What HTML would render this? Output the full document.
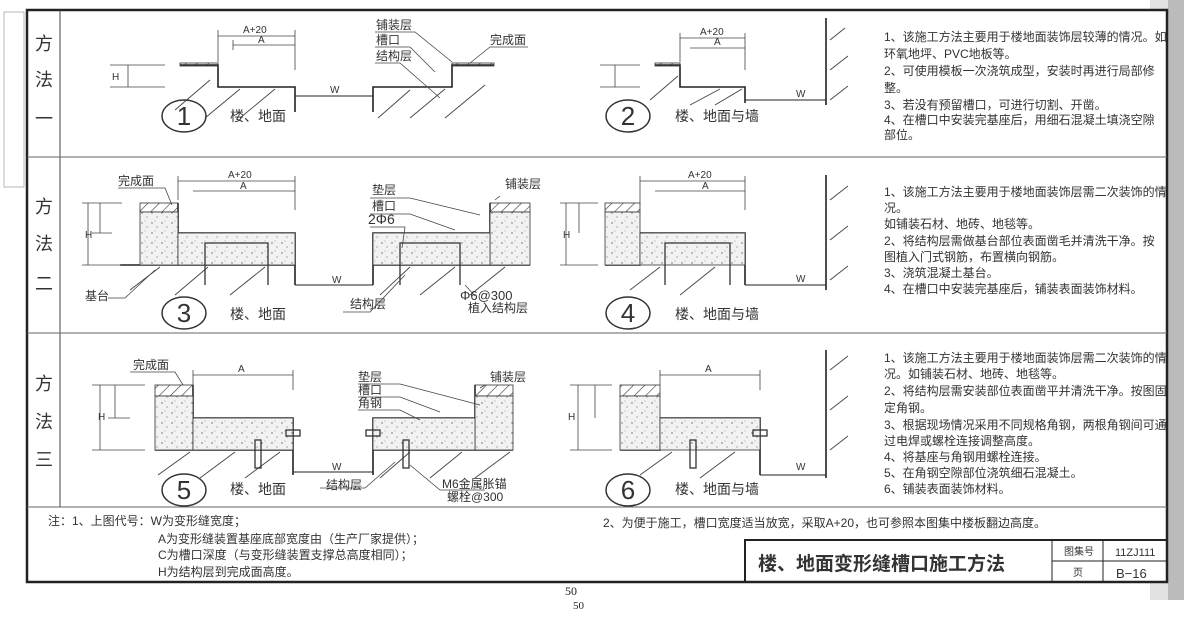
<!DOCTYPE html>
<html><head><meta charset="utf-8"><style>
body{margin:0;background:#fff;}
svg{display:block;font-family:"Liberation Sans","Noto Sans CJK SC",sans-serif;}
.t{font-size:12px;fill:#333;}
.s{font-size:10px;fill:#333;}
</style></head><body>
<svg width="1184" height="619" viewBox="0 0 1184 619">
<defs>
<pattern id="h" width="8" height="8" patternUnits="userSpaceOnUse" patternTransform="rotate(45)"><line x1="0" y1="0" x2="0" y2="8" stroke="#333" stroke-width="1.2"/></pattern>
<pattern id="c" width="10" height="10" patternUnits="userSpaceOnUse"><rect width="10" height="10" fill="#f2f2f2"/><circle cx="2" cy="3" r=".7" fill="#666"/><circle cx="7" cy="7" r=".6" fill="#777"/><circle cx="5" cy="1" r=".5" fill="#888"/></pattern>
</defs>
<rect x="1150" y="0" width="34" height="600" fill="#e2e2e2"/>
<rect x="1168" y="0" width="16" height="600" fill="#bbb"/>
<rect x="27" y="10" width="1140" height="572" fill="#fff" stroke="#222" stroke-width="2.5"/>
<line x1="60" y1="10" x2="60" y2="507" stroke="#444"/>
<line x1="27" y1="157" x2="1167" y2="157" stroke="#666"/>
<line x1="27" y1="333" x2="1167" y2="333" stroke="#666"/>
<line x1="27" y1="507" x2="1167" y2="507" stroke="#666"/>
<rect x="4" y="12" width="20" height="175" fill="none" stroke="#999" stroke-width=".7"/>
<g font-size="18" fill="#333" text-anchor="middle">
<text x="44" y="50">方</text><text x="44" y="86">法</text><text x="44" y="125">一</text>
<text x="44" y="213">方</text><text x="44" y="250">法</text><text x="44" y="290">二</text>
<text x="44" y="390">方</text><text x="44" y="428">法</text><text x="44" y="466">三</text>
</g>
<g stroke="#222" fill="none" stroke-width="1.6">
<polyline points="180,65 218,65 218,87 295,87 295,112"/>
<polyline points="373,112 373,87 452,87 452,65 494,65"/>
<line x1="295" y1="96" x2="373" y2="96" stroke-width="1"/>
<polyline points="655,65 680,65 680,87 745,87 745,103"/>
<line x1="745" y1="100" x2="826" y2="100" stroke-width="1"/>
<line x1="826" y1="18" x2="826" y2="105"/>
<line x1="120" y1="265" x2="295" y2="265"/><polyline points="178,203 178,233 295,233 295,285"/>
<polyline points="373,285 373,233 490,233 490,203"/><line x1="373" y1="265" x2="530" y2="265"/>
<line x1="295" y1="285" x2="373" y2="285" stroke-width="1"/>
<polyline points="605,265 640,265 640,233 745,233 745,285"/><line x1="745" y1="285" x2="826" y2="285" stroke-width="1"/>
<line x1="826" y1="175" x2="826" y2="290"/>
<line x1="155" y1="450" x2="293" y2="450"/><polyline points="193,385 193,418 293,418 293,475"/>
<polyline points="373,475 373,418 475,418 475,385"/><line x1="373" y1="450" x2="513" y2="450"/>
<line x1="293" y1="472" x2="373" y2="472" stroke-width="1"/>
<polyline points="620,450 660,450 660,418 760,418 760,475"/><line x1="760" y1="475" x2="826" y2="475" stroke-width="1"/>
<line x1="826" y1="350" x2="826" y2="478"/>
</g>
<g stroke="#333" stroke-width=".8">
<rect x="140" y="203" width="38" height="9" fill="url(#h)"/><rect x="140" y="212" width="38" height="53" fill="url(#c)"/><rect x="178" y="233" width="117" height="32" fill="url(#c)"/>
<rect x="490" y="203" width="40" height="9" fill="url(#h)"/><rect x="490" y="212" width="40" height="53" fill="url(#c)"/><rect x="373" y="233" width="117" height="32" fill="url(#c)"/>
<rect x="605" y="203" width="35" height="9" fill="url(#h)"/><rect x="605" y="212" width="35" height="53" fill="url(#c)"/><rect x="640" y="233" width="105" height="32" fill="url(#c)"/>
<rect x="155" y="385" width="38" height="11" fill="url(#h)"/><rect x="155" y="396" width="38" height="54" fill="url(#c)"/><rect x="193" y="418" width="100" height="32" fill="url(#c)"/>
<rect x="475" y="385" width="38" height="11" fill="url(#h)"/><rect x="475" y="396" width="38" height="54" fill="url(#c)"/><rect x="373" y="418" width="102" height="32" fill="url(#c)"/>
<rect x="620" y="385" width="40" height="11" fill="url(#h)"/><rect x="620" y="396" width="40" height="54" fill="url(#c)"/><rect x="660" y="418" width="100" height="32" fill="url(#c)"/>
<rect x="180" y="63" width="38" height="3" fill="url(#h)"/><rect x="452" y="63" width="42" height="3" fill="url(#h)"/><rect x="655" y="63" width="25" height="3" fill="url(#h)"/>
</g>
<g stroke="#444" stroke-width=".9">
<line x1="175" y1="110" x2="210" y2="80"/><line x1="205" y1="118" x2="240" y2="89"/><line x1="240" y1="118" x2="275" y2="89"/>
<line x1="378" y1="118" x2="410" y2="90"/><line x1="410" y1="118" x2="445" y2="89"/><line x1="445" y1="118" x2="485" y2="85"/>
<line x1="650" y1="100" x2="678" y2="76"/><line x1="690" y1="105" x2="720" y2="89"/><line x1="715" y1="105" x2="742" y2="89"/>
<line x1="830" y1="40" x2="845" y2="28"/><line x1="830" y1="70" x2="848" y2="56"/><line x1="830" y1="100" x2="848" y2="86"/>
<line x1="130" y1="290" x2="160" y2="267"/><line x1="175" y1="295" x2="208" y2="267"/><line x1="230" y1="295" x2="265" y2="267"/>
<line x1="380" y1="295" x2="410" y2="267"/><line x1="420" y1="295" x2="455" y2="267"/><line x1="470" y1="295" x2="505" y2="267"/>
<line x1="630" y1="290" x2="660" y2="267"/><line x1="680" y1="295" x2="715" y2="267"/>
<line x1="830" y1="200" x2="848" y2="186"/><line x1="830" y1="240" x2="848" y2="226"/><line x1="830" y1="280" x2="848" y2="266"/>
<line x1="158" y1="475" x2="190" y2="452"/><line x1="200" y1="478" x2="235" y2="452"/><line x1="245" y1="478" x2="280" y2="452"/>
<line x1="380" y1="478" x2="410" y2="452"/><line x1="430" y1="478" x2="462" y2="452"/><line x1="475" y1="478" x2="510" y2="452"/>
<line x1="640" y1="475" x2="672" y2="452"/><line x1="700" y1="478" x2="735" y2="452"/>
<line x1="830" y1="370" x2="848" y2="356"/><line x1="830" y1="410" x2="848" y2="396"/><line x1="830" y1="450" x2="848" y2="436"/>
</g>
<g stroke="#333" fill="none" stroke-width="1.3">
<polyline points="205,285 205,243 268,243 268,285"/><polyline points="400,285 400,243 460,243 460,285"/><polyline points="665,285 665,243 730,243 730,285"/>
<rect x="255" y="440" width="6" height="28"/><rect x="403" y="440" width="6" height="28"/><rect x="690" y="440" width="6" height="28"/>
<rect x="286" y="430" width="14" height="6"/><rect x="366" y="430" width="14" height="6"/><rect x="753" y="430" width="14" height="6"/>
</g>
<g stroke="#444" stroke-width=".8" fill="none">
<line x1="218" y1="36" x2="295" y2="36"/><line x1="233" y1="45" x2="295" y2="45"/><line x1="218" y1="30" x2="218" y2="62"/><line x1="295" y1="30" x2="295" y2="70"/><line x1="233" y1="40" x2="233" y2="50"/>
<line x1="110" y1="65" x2="165" y2="65"/><line x1="110" y1="87" x2="165" y2="87"/><line x1="128" y1="65" x2="128" y2="87"/>
<line x1="680" y1="38" x2="745" y2="38"/><line x1="690" y1="48" x2="745" y2="48"/><line x1="680" y1="33" x2="680" y2="62"/><line x1="745" y1="33" x2="745" y2="70"/>
<line x1="600" y1="65" x2="640" y2="65"/><line x1="600" y1="87" x2="640" y2="87"/><line x1="615" y1="65" x2="615" y2="87"/>
<line x1="178" y1="181" x2="295" y2="181"/><line x1="193" y1="191" x2="295" y2="191"/><line x1="178" y1="176" x2="178" y2="200"/><line x1="295" y1="176" x2="295" y2="210"/>
<line x1="82" y1="203" x2="122" y2="203"/><line x1="82" y1="265" x2="122" y2="265"/><line x1="88" y1="203" x2="88" y2="265"/><line x1="100" y1="203" x2="100" y2="233"/><line x1="92" y1="233" x2="112" y2="233"/>
<line x1="640" y1="181" x2="745" y2="181"/><line x1="655" y1="191" x2="745" y2="191"/><line x1="640" y1="176" x2="640" y2="205"/><line x1="745" y1="176" x2="745" y2="210"/>
<line x1="560" y1="203" x2="598" y2="203"/><line x1="560" y1="265" x2="598" y2="265"/><line x1="566" y1="203" x2="566" y2="265"/><line x1="579" y1="203" x2="579" y2="233"/>
<line x1="193" y1="375" x2="293" y2="375"/><line x1="193" y1="370" x2="193" y2="385"/><line x1="293" y1="370" x2="293" y2="390"/>
<line x1="92" y1="385" x2="145" y2="385"/><line x1="92" y1="450" x2="145" y2="450"/><line x1="100" y1="385" x2="100" y2="450"/><line x1="115" y1="385" x2="115" y2="418"/><line x1="108" y1="418" x2="130" y2="418"/>
<line x1="660" y1="375" x2="760" y2="375"/><line x1="660" y1="370" x2="660" y2="385"/><line x1="760" y1="370" x2="760" y2="390"/>
<line x1="570" y1="385" x2="612" y2="385"/><line x1="570" y1="450" x2="612" y2="450"/><line x1="578" y1="385" x2="578" y2="450"/><line x1="595" y1="385" x2="595" y2="418"/>
<polyline points="375,32 415,32 452,62"/><polyline points="375,47 410,47 435,72"/><polyline points="375,63 400,63 440,98"/><polyline points="528,47 490,47 470,63"/>
<polyline points="118,188 165,188 172,205"/><polyline points="370,198 410,198 480,215"/><polyline points="370,214 410,214 455,230"/><polyline points="370,227 405,227 402,248"/><polyline points="500,196 495,200"/>
<polyline points="343,312 370,312 405,275"/><polyline points="475,296 465,285"/><polyline points="108,298 125,298 155,270"/>
<polyline points="130,372 175,372 183,385"/><polyline points="358,384 400,384 480,405"/><polyline points="358,397 400,397 440,412"/><polyline points="358,410 400,410 420,420"/><polyline points="485,385 480,388"/>
<polyline points="320,488 365,488 395,462"/><polyline points="485,490 440,490 410,465"/>
</g>
<g class="s">
<text x="243" y="33">A+20</text><text x="258" y="43">A</text><text x="700" y="35">A+20</text><text x="714" y="45">A</text>
<text x="228" y="178">A+20</text><text x="240" y="189">A</text><text x="688" y="178">A+20</text><text x="702" y="189">A</text>
<text x="238" y="372">A</text><text x="705" y="372">A</text>
<text x="330" y="93">W</text><text x="332" y="283">W</text><text x="332" y="470">W</text><text x="796" y="97">W</text><text x="796" y="282">W</text><text x="796" y="470">W</text>
<text x="112" y="80">H</text><text x="85" y="238">H</text><text x="98" y="420">H</text><text x="563" y="238">H</text><text x="568" y="420">H</text>
</g>
<g class="t">
<text x="376" y="29">铺装层</text><text x="376" y="44">槽口</text><text x="376" y="60">结构层</text><text x="490" y="44">完成面</text>
<text x="118" y="185">完成面</text><text x="372" y="194">垫层</text><text x="505" y="188">铺装层</text><text x="372" y="210">槽口</text><text x="368" y="224" font-size="14">2Φ6</text>
<text x="85" y="300">基台</text><text x="350" y="308">结构层</text><text x="460" y="300" font-size="13">Φ6@300</text><text x="468" y="312">植入结构层</text>
<text x="133" y="369">完成面</text><text x="358" y="381">垫层</text><text x="358" y="394">槽口</text><text x="358" y="407">角钢</text><text x="490" y="381">铺装层</text>
<text x="326" y="489">结构层</text><text x="442" y="488">M6金属胀锚</text><text x="447" y="501">螺栓@300</text>
</g>
<g font-size="14" fill="#333">
<text x="230" y="121">楼、地面</text><text x="675" y="121">楼、地面与墙</text>
<text x="230" y="319">楼、地面</text><text x="675" y="319">楼、地面与墙</text>
<text x="230" y="494">楼、地面</text><text x="675" y="494">楼、地面与墙</text>
</g>
<g fill="none" stroke="#333" stroke-width="1.5">
<ellipse cx="184" cy="116" rx="22" ry="16"/><ellipse cx="628" cy="116" rx="22" ry="16"/>
<ellipse cx="184" cy="313" rx="22" ry="16"/><ellipse cx="628" cy="313" rx="22" ry="16"/>
<ellipse cx="184" cy="490" rx="22" ry="16"/><ellipse cx="628" cy="490" rx="22" ry="16"/>
</g>
<g font-size="26" fill="#333" text-anchor="middle">
<text x="184" y="125">1</text><text x="628" y="125">2</text><text x="184" y="322">3</text><text x="628" y="322">4</text><text x="184" y="499">5</text><text x="628" y="499">6</text>
</g>
<g class="t" font-size="11">
<text x="884" y="41">1、该施工方法主要用于楼地面装饰层较薄的情况。如</text>
<text x="884" y="58">环氧地坪、PVC地板等。</text>
<text x="884" y="75">2、可使用模板一次浇筑成型，安装时再进行局部修</text>
<text x="884" y="92">整。</text>
<text x="884" y="109">3、若没有预留槽口，可进行切割、开凿。</text>
<text x="884" y="124">4、在槽口中安装完基座后，用细石混凝土填浇空隙</text>
<text x="884" y="139">部位。</text>
<text x="884" y="196">1、该施工方法主要用于楼地面装饰层需二次装饰的情</text>
<text x="884" y="212">况。</text>
<text x="884" y="228">如铺装石材、地砖、地毯等。</text>
<text x="884" y="245">2、将结构层需做基台部位表面凿毛并清洗干净。按</text>
<text x="884" y="261">图植入门式钢筋，布置横向钢筋。</text>
<text x="884" y="277">3、浇筑混凝土基台。</text>
<text x="884" y="293">4、在槽口中安装完基座后，铺装表面装饰材料。</text>
<text x="884" y="362">1、该施工方法主要用于楼地面装饰层需二次装饰的情</text>
<text x="884" y="378">况。如铺装石材、地砖、地毯等。</text>
<text x="884" y="395">2、将结构层需安装部位表面凿平并清洗干净。按图固</text>
<text x="884" y="412">定角钢。</text>
<text x="884" y="429">3、根据现场情况采用不同规格角钢，两根角钢间可通</text>
<text x="884" y="445">过电焊或螺栓连接调整高度。</text>
<text x="884" y="461">4、将基座与角钢用螺栓连接。</text>
<text x="884" y="477">5、在角钢空隙部位浇筑细石混凝土。</text>
<text x="884" y="493">6、铺装表面装饰材料。</text>
</g>
<g class="t" font-size="12.5">
<text x="48" y="525">注：1、上图代号：W为变形缝宽度；</text>
<text x="158" y="543">A为变形缝装置基座底部宽度由（生产厂家提供）；</text>
<text x="158" y="559">C为槽口深度（与变形缝装置支撑总高度相同）；</text>
<text x="158" y="576">H为结构层到完成面高度。</text>
<text x="603" y="527">2、为便于施工，槽口宽度适当放宽，采取A+20，也可参照本图集中楼板翻边高度。</text>
</g>
<g stroke="#222" fill="none">
<polyline points="745,582 745,540 1167,540" stroke-width="2"/>
<line x1="1052" y1="540" x2="1052" y2="582"/><line x1="1103" y1="540" x2="1103" y2="582"/><line x1="1052" y1="561" x2="1167" y2="561"/>
</g>
<text x="758" y="570" font-size="19" font-weight="bold" fill="#333">楼、地面变形缝槽口施工方法</text>
<text x="1064" y="555" font-size="10" fill="#333">图集号</text><text x="1073" y="576" font-size="10" fill="#333">页</text>
<text x="1115" y="556" font-size="11" fill="#333">11ZJ111</text><text x="1116" y="578" font-size="13" fill="#333">B−16</text>
<text x="565" y="595" font-size="12" fill="#222" font-family="Liberation Serif">50</text>
<text x="573" y="609" font-size="11" fill="#222" font-family="Liberation Serif">50</text>
</svg>
</body></html>
